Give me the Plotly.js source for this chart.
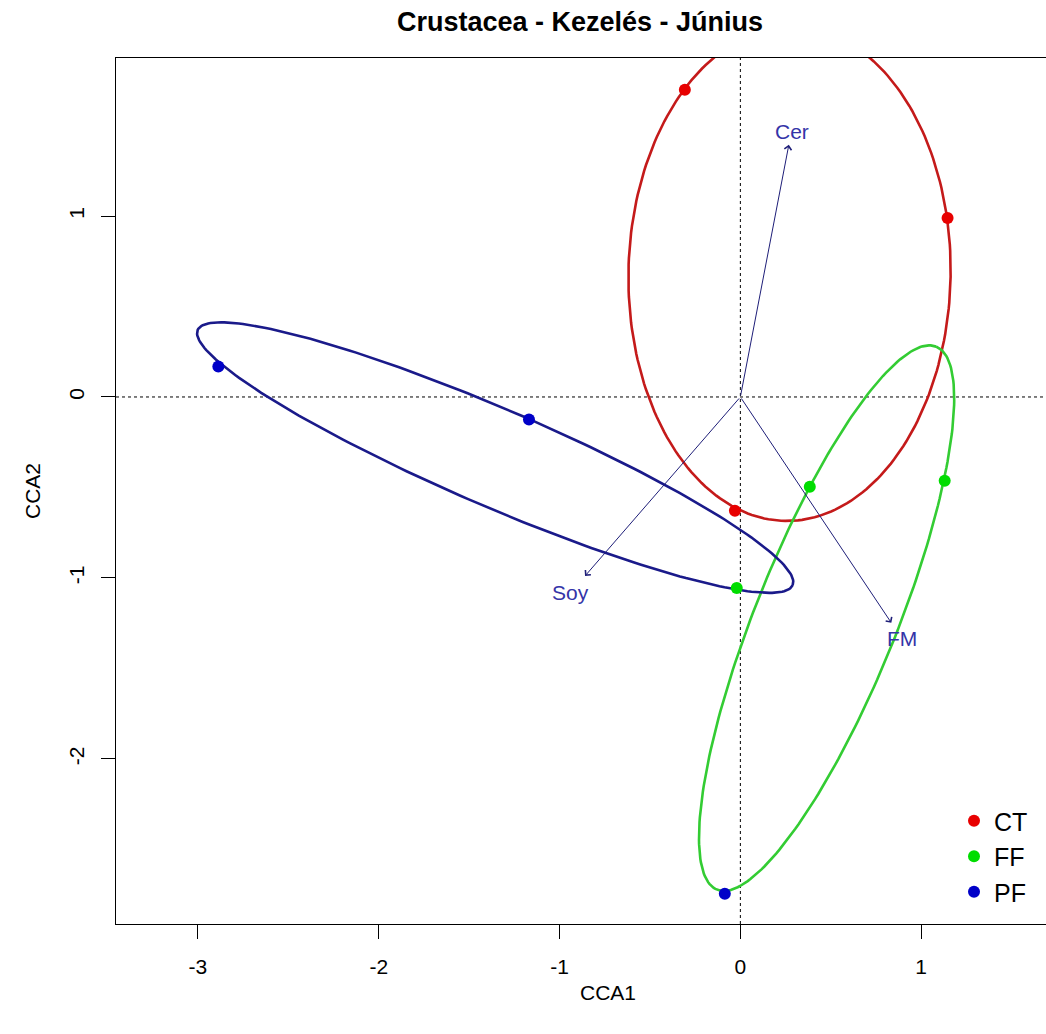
<!DOCTYPE html>
<html>
<head>
<meta charset="utf-8">
<script src="https://cdn.plot.ly/plotly-3.0.1.min.js"></script>
<style>
  html, body { margin: 0; padding: 0; overflow: hidden; background: #fff; }
  #plot { width: 1100px; height: 1034px; }
</style>
</head>
<body>
<div id="plot"></div>
<script>
// Site scores (CCA1, CCA2) for each treatment group
const groups = ["CT", "FF", "PF"];
const ctX = [-0.307, 1.146, -0.030];
const ctY = [1.698, 0.989, -0.629];
const ffX = [0.384, 1.130, -0.020];
const ffY = [-0.496, -0.463, -1.055];
const pfX = [-2.887, -1.169, -0.086];
const pfY = [0.169, -0.125, -2.745];

// Environmental biplot arrows
const envNames = ["Cer", "Soy", "FM"];
const envX = [0.268, -0.859, 0.835];
const envY = [1.393, -0.989, -1.248];
const envLabelX = [0.283, -0.937, 0.892];
const envLabelY = [1.465, -1.083, -1.332];

// Enclosing ellipses: centre, semi-axes and rotation (degrees) per group
const ellCx = [0.272, 0.477, -1.356];
const ellCy = [0.680, -1.222, -0.335];
const ellA = [0.891, 1.618, 1.79];
const ellB = [1.365, 0.39, 0.27];
const ellRot = [-1, 68, -23.2];

const pointColors = ["#E80000", "#00DD00", "#0000C8"];
const lineColors = ["#C41A1A", "#33CC33", "#1A1A8A"];

function ellipsePath(i) {
  const xs = [], ys = [];
  const th = ellRot[i] * Math.PI / 180;
  const c = Math.cos(th), s = Math.sin(th);
  for (let k = 0; k <= 240; k++) {
    const t = 2 * Math.PI * k / 240;
    const u = ellA[i] * Math.cos(t), v = ellB[i] * Math.sin(t);
    xs.push(ellCx[i] + u * c - v * s);
    ys.push(ellCy[i] + u * s + v * c);
  }
  return {xs, ys};
}

const traces = [];
for (let i = 0; i < 3; i++) {
  const p = ellipsePath(i);
  traces.push({
    x: p.xs, y: p.ys, mode: "lines", type: "scatter",
    line: {color: lineColors[i], width: 2.6},
    showlegend: false, hoverinfo: "skip"
  });
}
const ptX = [ctX, ffX, pfX], ptY = [ctY, ffY, pfY];
for (let i = 0; i < 3; i++) {
  traces.push({
    x: ptX[i], y: ptY[i], mode: "markers", type: "scatter",
    name: groups[i],
    marker: {color: pointColors[i], size: 12}
  });
}

const annotations = [];
for (let i = 0; i < envNames.length; i++) {
  annotations.push({
    x: envX[i], y: envY[i], ax: 0, ay: 0, xref: "x", yref: "y",
    axref: "x", ayref: "y", text: "", showarrow: true,
    arrowhead: 4, arrowsize: 1.4, arrowwidth: 1, arrowcolor: "#1E1E78",
    standoff: 0, startstandoff: 0
  });
  annotations.push({
    x: envLabelX[i], y: envLabelY[i], xref: "x", yref: "y",
    text: envNames[i], showarrow: false,
    font: {family: "Liberation Sans, Arial, sans-serif", size: 21, color: "#3434A8"}
  });
}

const layout = {
  width: 1100, height: 1034,
  margin: {l: 116, r: 0, t: 58, b: 110},
  paper_bgcolor: "#fff", plot_bgcolor: "#fff",
  font: {family: "Liberation Sans, Arial, sans-serif", size: 21, color: "#000"},
  title: {
    text: "<b>Crustacea - Kezelés - Június</b>",
    x: 580 / 1100, xref: "container", xanchor: "center",
    y: 1, yref: "container", yanchor: "top", pad: {t: 12},
    font: {family: "Liberation Sans, Arial, sans-serif", size: 27, color: "#000"}
  },
  xaxis: {
    range: [-3.453, 1.989], showgrid: false, zeroline: false,
    showline: true, mirror: true, linecolor: "#000", linewidth: 1,
    ticks: "outside", ticklen: 14, tickcolor: "#000",
    tickvals: [-3, -2, -1, 0, 1], ticktext: ["-3", "-2", "-1", "0", "1"],
    tickfont: {size: 21}, ticklabelstandoff: 10,
    title: {text: "CCA1", font: {size: 21}, standoff: 8}
  },
  yaxis: {
    range: [-2.912, 1.873], showgrid: false, zeroline: false,
    showline: true, mirror: true, linecolor: "#000", linewidth: 1,
    ticks: "outside", ticklen: 14, tickcolor: "#000",
    tickvals: [-2, -1, 0, 1], ticktext: ["-2", "-1", "0", "1"],
    tickangle: -90, tickfont: {size: 21}, ticklabelstandoff: 9,
    title: {text: "CCA2", font: {size: 21}, standoff: 18}
  },
  shapes: [
    {type: "line", xref: "x", yref: "paper", x0: 0, x1: 0, y0: 0, y1: 1,
     line: {color: "#000", width: 1, dash: "dot"}, layer: "below"},
    {type: "line", xref: "paper", yref: "y", x0: 0, x1: 1, y0: 0, y1: 0,
     line: {color: "#000", width: 1, dash: "dot"}, layer: "below"}
  ],
  annotations: annotations,
  showlegend: true,
  legend: {
    x: (954 - 116) / 984, xanchor: "left", y: (924 - 798) / 866, yanchor: "top",
    bgcolor: "rgba(255,255,255,0)", borderwidth: 0,
    font: {size: 25, color: "#000"}, tracegroupgap: 0
  }
};

Plotly.newPlot("plot", traces, layout, {displayModeBar: false, staticPlot: true});
</script>
</body>
</html>
